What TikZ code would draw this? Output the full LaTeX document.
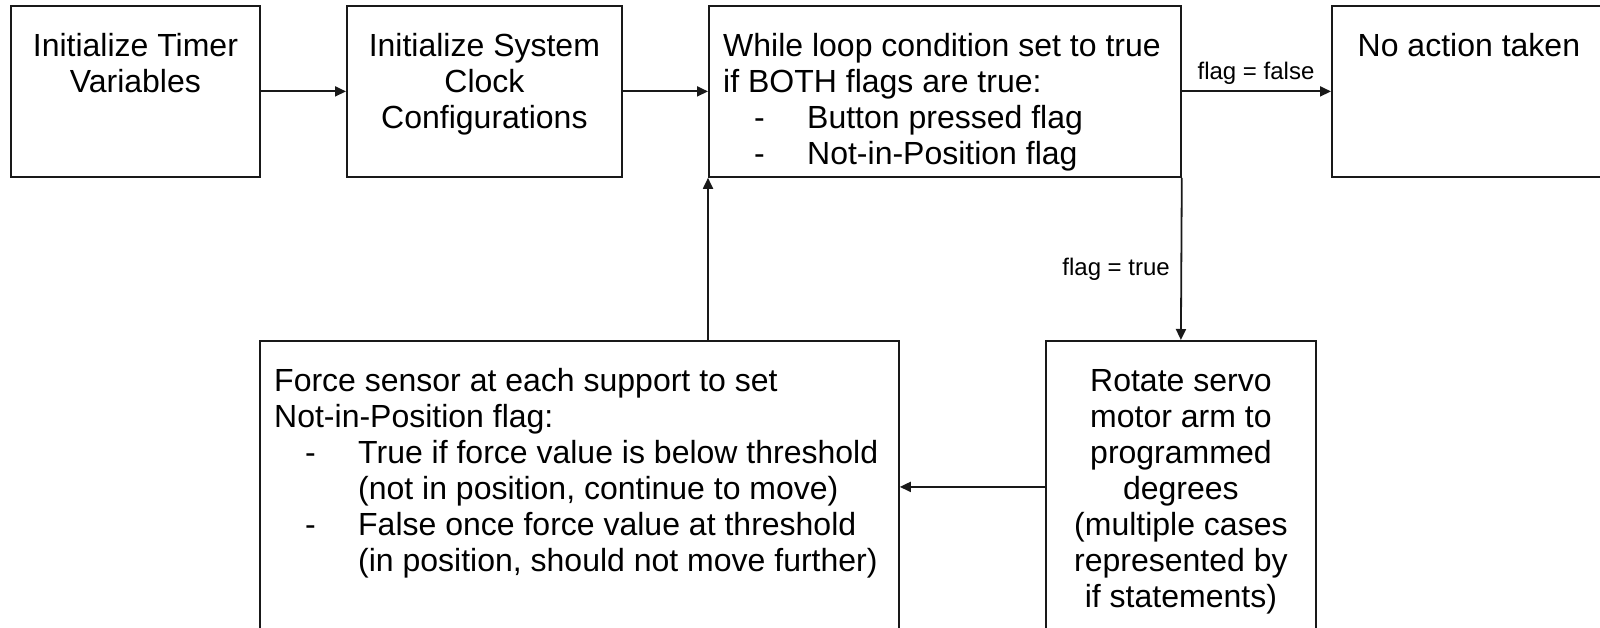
\documentclass[tikz,border=0pt]{standalone}
\usepackage{fontspec}
\setmainfont{Liberation Sans}
\usetikzlibrary{arrows.meta,calc}
\newcommand{\fs}{\rule{0pt}{27pt}}
\begin{document}
\begin{tikzpicture}[x=1pt,y=-1pt,
  box/.style={draw=black!90, line width=1.8pt, inner sep=0pt, anchor=north west},
  txt/.style={inner sep=0pt, font=\fontsize{32}{36}\selectfont, text=black},
  lbl/.style={inner sep=0pt, font=\fontsize{24}{28}\selectfont, text=black},
  arr/.style={line width=1.8pt, draw=black!90, -{Triangle[length=11pt,width=10pt]}}]
\useasboundingbox (0,0) rectangle (1600,628);
\clip (0,0) rectangle (1600,628);
\fill[white] (0,0) rectangle (1600,628);
% boxes
\node[box, minimum width=249pt, minimum height=171pt] (b1) at (10,5) {};
\node[box, minimum width=275pt, minimum height=171pt] (b2) at (346,5) {};
\node[box, minimum width=472pt, minimum height=171pt] (b3) at (708,5) {};
\node[box, minimum width=274pt, minimum height=171pt] (b4) at (1331,5) {};
\node[box, minimum width=639pt, minimum height=292pt] (b5) at (259,340) {};
\node[box, minimum width=270pt, minimum height=292pt] (b6) at (1045,340) {};
% texts
\node[txt, align=center, anchor=north] (t1) at ($(b1.north)+(0,24)$) {\fs Initialize Timer\\Variables};
\node[txt, align=center, anchor=north] (t2) at ($(b2.north)+(0,24)$) {\fs Initialize System\\Clock\\Configurations};
\node[txt, align=left, anchor=north west] (t3) at ($(b3.north west)+(15,24)$) {\fs While loop condition set to true\\if BOTH flags are true:\\\makebox[84pt][l]{\hspace*{31pt}-}Button pressed flag\\\makebox[84pt][l]{\hspace*{31pt}-}Not-in-Position flag};
\node[txt, align=center, anchor=north] (t4) at ($(b4.north)+(0,24)$) {\fs No action taken};
\node[txt, align=left, anchor=north west] (t5) at ($(b5.north west)+(15,24)$) {\fs Force sensor at each support to set\\Not-in-Position flag:\\\makebox[84pt][l]{\hspace*{31pt}-}True if force value is below threshold\\\hspace*{84pt}(not in position, continue to move)\\\makebox[84pt][l]{\hspace*{31pt}-}False once force value at threshold\\\hspace*{84pt}(in position, should not move further)};
\node[txt, align=center, anchor=north] (t6) at ($(b6.north)+(0,24)$) {\fs Rotate servo\\motor arm to\\programmed\\degrees\\(multiple cases\\represented by\\if statements)};
% connectors
\draw[arr] (b1.east) -- (b2.west);
\draw[arr] (b2.east) -- (b3.west);
\draw[arr] (b3.east) -- (b4.west);
\draw[arr] (b3.south east) -- (b6.north);
\draw[arr] (b6.west) -- (b6.west -| b5.east);
\draw[arr] (b5.north -| b3.south west) -- (b3.south west);
% labels
\node[lbl, anchor=base] (lf) at (1256,80) {flag = false};
\node[lbl, anchor=base east] (lt) at (1170,276) {flag = true};
\end{tikzpicture}
\end{document}
